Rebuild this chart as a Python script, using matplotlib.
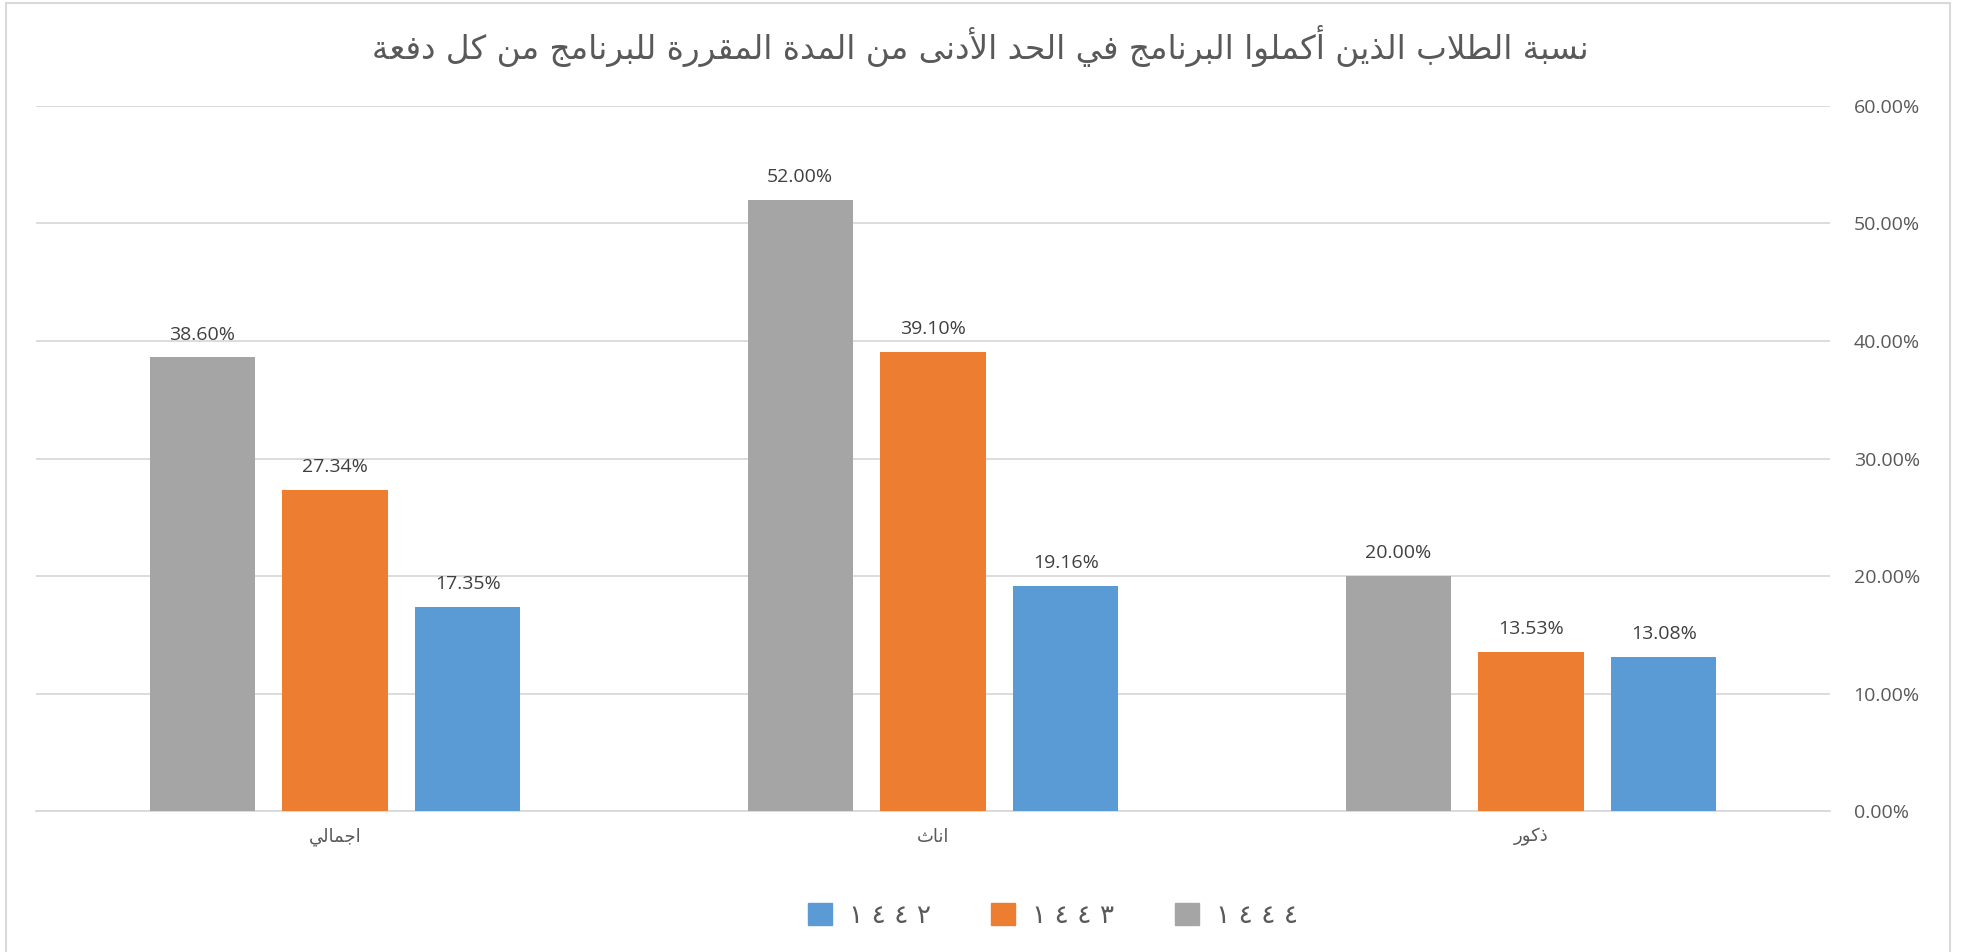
import matplotlib.pyplot as plt
from matplotlib.patches import Rectangle
import numpy as np

# ---- data ----
categories = ["اجمالي", "اناث", "ذكور"]
series_names = ["١٤٤٤", "١٤٤٣", "١٤٤٢"]   # bar order left to right inside a group
values_1444 = [0.3860, 0.5200, 0.2000]
values_1443 = [0.2734, 0.3910, 0.1353]
values_1442 = [0.1735, 0.1916, 0.1308]
title = "نسبة الطلاب الذين أكملوا البرنامج في الحد الأدنى من المدة المقررة للبرنامج من كل دفعة"

colors = ["#A5A5A5", "#ED7D31", "#5B9BD5"]


# matplotlib has no Arabic shaping, so join the letters by hand
# (presentation forms) and flip to visual order
RIGHT = {"آ": 0xFE81, "أ": 0xFE83, "ؤ": 0xFE85, "إ": 0xFE87, "ا": 0xFE8D,
         "ة": 0xFE93, "د": 0xFEA9, "ذ": 0xFEAB, "ر": 0xFEAD, "ز": 0xFEAF,
         "و": 0xFEED, "ى": 0xFEEF}
DUAL = {"ئ": 0xFE89, "ب": 0xFE8F, "ت": 0xFE95, "ث": 0xFE99, "ج": 0xFE9D,
        "ح": 0xFEA1, "خ": 0xFEA5, "س": 0xFEB1, "ش": 0xFEB5, "ص": 0xFEB9,
        "ض": 0xFEBD, "ط": 0xFEC1, "ظ": 0xFEC5, "ع": 0xFEC9, "غ": 0xFECD,
        "ف": 0xFED1, "ق": 0xFED5, "ك": 0xFED9, "ل": 0xFEDD, "م": 0xFEE1,
        "ن": 0xFEE5, "ه": 0xFEE9, "ي": 0xFEF1}
LAM_ALEF = {"آ": 0xFEF5, "أ": 0xFEF7, "إ": 0xFEF9, "ا": 0xFEFB}


def shape(text):
    out = []
    i = 0
    n = len(text)
    while i < n:
        c = text[i]
        link_prev = i > 0 and text[i - 1] in DUAL
        if c == "ل" and i + 1 < n and text[i + 1] in LAM_ALEF:
            out.append(chr(LAM_ALEF[text[i + 1]] + (1 if link_prev else 0)))
            i += 2
            continue
        if c in DUAL:
            link_next = i + 1 < n and (text[i + 1] in DUAL or text[i + 1] in RIGHT)
            off = {(False, False): 0, (True, False): 1,
                   (False, True): 2, (True, True): 3}[(link_prev, link_next)]
            out.append(chr(DUAL[c] + off))
        elif c in RIGHT:
            out.append(chr(RIGHT[c] + (1 if link_prev else 0)))
        else:
            out.append(c)
        i += 1
    return "".join(reversed(out))


plt.rcParams["font.family"] = ["DejaVu Sans"]

fig = plt.figure(figsize=(19.61, 9.52), dpi=100)
ax = fig.add_axes([0.0184, 0.148, 0.9148, 0.7407])

x = np.arange(len(categories))
width = 0.176
step = 0.222
all_values = [values_1444, values_1443, values_1442]

for k, (vals, col) in enumerate(zip(all_values, colors)):
    bars = ax.bar(x + (k - 1) * step, vals, width, color=col, zorder=3)
    for b, v in zip(bars, vals):
        ax.annotate(f"{v * 100:.2f}%", (b.get_x() + b.get_width() / 2, v),
                    xytext=(0, 10), textcoords="offset points",
                    ha="center", va="bottom", fontsize=14,
                    family="Open Sans", color="#404040")

ax.set_xlim(-0.5, 2.5)
ax.set_ylim(0, 0.6)
ax.set_yticks(np.arange(0, 0.61, 0.1))
ax.set_yticklabels([f"{t * 100:.2f}%" for t in np.arange(0, 0.61, 0.1)],
                   family="Open Sans", fontsize=14, color="#595959")
ax.yaxis.tick_right()
ax.tick_params(axis="y", length=0, pad=17)
ax.set_xticks(x)
ax.set_xticklabels([shape(c) for c in categories], fontsize=13, color="#595959")
ax.tick_params(axis="x", length=0, pad=12)
ax.grid(axis="y", color="#D9D9D9", linewidth=1.3, zorder=0)
for s in ["top", "left", "right"]:
    ax.spines[s].set_visible(False)
ax.spines["bottom"].set_color("#D9D9D9")
ax.spines["bottom"].set_linewidth(1.3)

fig.text(0.5, 0.952, shape(title), ha="center", va="center",
         fontsize=23.5, color="#595959")

# legend: 1442, 1443, 1444 left to right
handles = [Rectangle((0, 0), 1, 1, color=c) for c in colors[::-1]]
labels = [" ".join(s) for s in series_names[::-1]]
fig.legend(handles, labels, loc="center", bbox_to_anchor=(1053 / 1961, 1 - 916 / 952),
           ncol=3, frameon=False, fontsize=19, labelcolor="#595959",
           handlelength=0.9, handleheight=0.9, handletextpad=0.65,
           columnspacing=2.3)

# thin frame around the chart area
fig.patches.append(Rectangle((6 / 1961, -0.01), 1944 / 1961, 1 - 3 / 952 + 0.01,
                             transform=fig.transFigure, fill=False,
                             edgecolor="#D9D9D9", linewidth=1.5))

plt.savefig("out.png", dpi=100)
